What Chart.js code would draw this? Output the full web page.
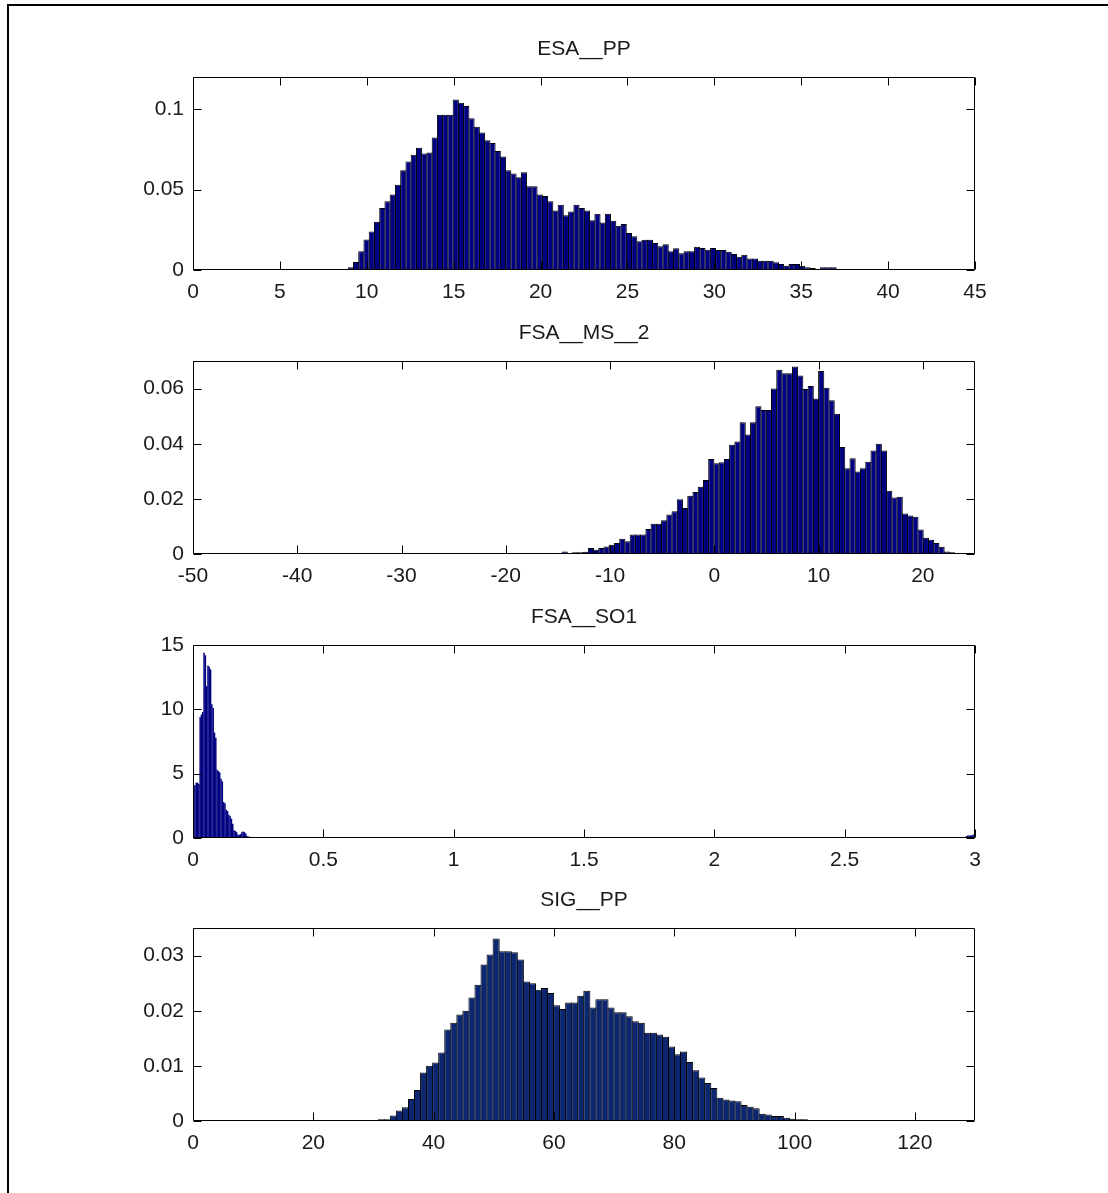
<!DOCTYPE html>
<html>
<head>
<meta charset="utf-8">
<title>Histograms</title>
<script src="https://cdn.jsdelivr.net/npm/chart.js@4.4.1/dist/chart.umd.min.js"></script>
<style>
  html, body { margin: 0; padding: 0; background: #fff; }
  body { width: 1108px; height: 1193px; position: relative; overflow: hidden; }
  .frame {
    position: absolute; left: 7px; top: 4px; right: 0; bottom: 0;
    border-left: 2px solid #000; border-top: 2px solid #000;
  }
  canvas { position: absolute; left: 0; }
</style>
</head>
<body>
<div class="frame"></div>
<canvas id="esa" width="1108" height="288" style="top:27px"></canvas>
<canvas id="ms" width="1108" height="288" style="top:311px"></canvas>
<canvas id="so1" width="1108" height="288" style="top:595px"></canvas>
<canvas id="sig" width="1108" height="288" style="top:878px"></canvas>
<script>
// ESA__PP : normalised histogram
const esaBinStart = 8.93;
const esaBinWidth = 0.302;
const esaValues = [
  0.0017, 0.005, 0.0116, 0.019, 0.024, 0.030, 0.0385, 0.0427, 0.047, 0.053,
  0.062, 0.0675, 0.0716, 0.076, 0.0725, 0.073, 0.0824, 0.0965, 0.0965, 0.0965,
  0.106, 0.104, 0.102, 0.0944, 0.089, 0.0855, 0.0807, 0.079, 0.074, 0.0706,
  0.062, 0.060, 0.0576, 0.0607, 0.052, 0.052, 0.047, 0.046, 0.0427, 0.037,
  0.0406, 0.034, 0.0364, 0.0406, 0.0385, 0.037, 0.031, 0.035, 0.0296, 0.035,
  0.0306, 0.0275, 0.0286, 0.023, 0.021, 0.0178, 0.0188, 0.0188, 0.0168, 0.0147,
  0.016, 0.0116, 0.0135, 0.0104, 0.0116, 0.0116, 0.0145, 0.0137, 0.0126, 0.0137,
  0.0124, 0.0124, 0.0114, 0.0099, 0.0083, 0.0095, 0.0072, 0.0072, 0.0058, 0.0058,
  0.0058, 0.0048, 0.0037, 0.0027, 0.0037, 0.0037, 0.0027, 0.0017, 0.0012, 0.0004,
  0.0017, 0.0017, 0.0017,
];
const esaXTicks = [0, 5, 10, 15, 20, 25, 30, 35, 40, 45];
const esaYTicks = [0, 0.05, 0.1];

// FSA__MS__2
const msBinStart = -14.6;
const msBinWidth = 0.502;
const msValues = [
  0.0009, 0.0002, 0.0006, 0.0006, 0.0008, 0.0022, 0.0015, 0.0022, 0.0027, 0.0034,
  0.004, 0.0055, 0.0046, 0.0071, 0.0071, 0.0071, 0.0091, 0.011, 0.011, 0.0122,
  0.0143, 0.0155, 0.0199, 0.0167, 0.0211, 0.0225, 0.0244, 0.0268, 0.0345, 0.0329,
  0.0333, 0.0345, 0.0396, 0.0408, 0.0478, 0.0433, 0.0478, 0.0536, 0.0522, 0.0522,
  0.06, 0.0668, 0.0656, 0.0656, 0.068, 0.0647, 0.0598, 0.0609, 0.0564, 0.0664,
  0.0603, 0.0558, 0.0509, 0.0388, 0.0311, 0.0347, 0.0299, 0.0311, 0.0335, 0.0375,
  0.04, 0.0375, 0.0229, 0.0205, 0.0208, 0.0147, 0.014, 0.0135, 0.0089, 0.0059,
  0.0052, 0.004, 0.0026, 0.0009, 0.0006,
];
const msXTicks = [-50, -40, -30, -20, -10, 0, 10, 20];
const msYTicks = [0, 0.02, 0.04, 0.06];

// FSA__SO1 (very narrow bins, plus a few outliers near 3)
const so1BinStart = 0;
const so1BinWidth = 0.005;
const so1Values = [
  4.1, 4.1, 4.3, 4.3, 4.2, 9.4, 9.6, 9.8, 14.4, 14.2,
  11.8, 13.4, 13.3, 13.1, 10.4, 10.1, 8.2, 7.8, 5.3, 5.2,
  5.1, 4.6, 4.4, 2.8, 2.7, 2.2, 2.1, 1.8, 1.7, 1.5,
  1.1, 0.6, 0.55, 0.45, 0.25, 0.25, 0.3, 0.45, 0.5, 0.45,
  0.35, 0.15, 0.12, 0.1, 0.08,
];
const so1TailStart = 2.965;
const so1TailValues = [0.15, 0.2, 0.2, 0.2, 0.2, 0.25, 0.3];
const so1XTicks = [0, 0.5, 1, 1.5, 2, 2.5, 3];
const so1YTicks = [0, 5, 10, 15];

// SIG__PP
const sigBinStart = 30.8;
const sigBinWidth = 1.005;
const sigValues = [
  0.0003, 0.0003, 0.001, 0.0019, 0.0025, 0.004, 0.0056, 0.0088, 0.010, 0.0106,
  0.0124, 0.0166, 0.0178, 0.0193, 0.020, 0.0224, 0.0247, 0.0284, 0.0302, 0.0331,
  0.0308, 0.0308, 0.0306, 0.0293, 0.0253, 0.025, 0.0238, 0.0241, 0.0232, 0.021,
  0.0203, 0.0215, 0.0215, 0.0227, 0.0236, 0.0206, 0.0221, 0.0221, 0.0206, 0.0197,
  0.0197, 0.019, 0.0181, 0.0178, 0.016, 0.016, 0.0157, 0.0153, 0.0135, 0.0121,
  0.0126, 0.0107, 0.0092, 0.0079, 0.0069, 0.006, 0.0042, 0.0039, 0.0037, 0.0036,
  0.0029, 0.0026, 0.0023, 0.0013, 0.0012, 0.0009, 0.0009, 0.0006, 0.0004, 0.0003,
  0.0003,
];
const sigXTicks = [0, 20, 40, 60, 80, 100, 120];
const sigYTicks = [0, 0.01, 0.02, 0.03];

const FONT = { family: "'Liberation Sans', Arial, sans-serif", size: 21 };
const TEXT = "#1a1a1a";
const TICK_LEN = 8;

function binPoints(start, width, values) {
  return values.map((y, i) => ({ x: start + (i + 0.5) * width, y }));
}

// MATLAB style box with inward ticks on all four sides
const matlabBox = {
  id: "matlabBox",
  afterDraw(chart) {
    const { ctx, chartArea: a, scales } = chart;
    const left = Math.round(a.left) + 0.5;
    const right = Math.round(a.right) - 0.5;
    const top = Math.round(a.top) + 0.5;
    const bottom = Math.round(a.bottom) - 0.5;
    ctx.save();
    ctx.strokeStyle = "#000";
    ctx.lineWidth = 1;
    ctx.beginPath();
    scales.x.ticks.forEach((t) => {
      const px = Math.round(scales.x.getPixelForValue(t.value)) + 0.5;
      ctx.moveTo(px, bottom);
      ctx.lineTo(px, bottom - TICK_LEN);
      ctx.moveTo(px, top);
      ctx.lineTo(px, top + TICK_LEN);
    });
    scales.y.ticks.forEach((t) => {
      const py = Math.round(scales.y.getPixelForValue(t.value)) + 0.5;
      ctx.moveTo(left, py);
      ctx.lineTo(left + TICK_LEN, py);
      ctx.moveTo(right, py);
      ctx.lineTo(right - TICK_LEN, py);
    });
    ctx.rect(left, top, right - left, bottom - top);
    ctx.stroke();
    ctx.restore();
  },
};

function histogram(id, { title, points, xMin, xMax, yMax, xTicks, yTicks, color, edged }) {
  return new Chart(document.getElementById(id), {
    type: "bar",
    data: {
      datasets: [
        {
          data: points,
          backgroundColor: color,
          borderColor: edged ? "#000" : color,
          borderWidth: edged ? 1 : 0,
          borderSkipped: "start",
          barPercentage: edged ? 1.18 : 1.15,
          categoryPercentage: 1,
          grouped: false,
        },
      ],
    },
    options: {
      responsive: false,
      animation: false,
      devicePixelRatio: 1,
      layout: { padding: { left: 0, right: 133, top: 0, bottom: 0 } },
      plugins: {
        legend: { display: false },
        tooltip: { enabled: false },
        title: {
          display: true,
          text: title,
          color: TEXT,
          fullSize: false,
          font: { ...FONT, weight: "normal" },
          padding: { top: 10, bottom: 14.8 },
        },
      },
      scales: {
        x: {
          type: "linear",
          min: xMin,
          max: xMax,
          offset: false,
          grid: { display: false, drawTicks: false, offset: false },
          border: { display: false },
          afterBuildTicks: (scale) => {
            scale.ticks = xTicks.map((value) => ({ value }));
          },
          afterFit: (scale) => {
            scale.height = 45;
          },
          ticks: {
            color: TEXT,
            font: FONT,
            padding: 10,
            maxRotation: 0,
            autoSkip: false,
            callback: (v) => String(v),
          },
        },
        y: {
          min: 0,
          max: yMax,
          grid: { display: false, drawTicks: false },
          border: { display: false },
          afterBuildTicks: (scale) => {
            scale.ticks = yTicks.map((value) => ({ value }));
          },
          afterFit: (scale) => {
            scale.width = 193;
          },
          ticks: {
            color: TEXT,
            font: FONT,
            padding: 9,
            callback: (v) => String(v),
          },
        },
      },
    },
    plugins: [matlabBox],
  });
}

histogram("esa", {
  title: "ESA__PP",
  points: binPoints(esaBinStart, esaBinWidth, esaValues),
  xMin: 0, xMax: 45, yMax: 0.12,
  xTicks: esaXTicks, yTicks: esaYTicks,
  color: "#000080", edged: true,
});

histogram("ms", {
  title: "FSA__MS__2",
  points: binPoints(msBinStart, msBinWidth, msValues),
  xMin: -50, xMax: 25, yMax: 0.07,
  xTicks: msXTicks, yTicks: msYTicks,
  color: "#000080", edged: true,
});

histogram("so1", {
  title: "FSA__SO1",
  points: binPoints(so1BinStart, so1BinWidth, so1Values)
    .concat(binPoints(so1TailStart, so1BinWidth, so1TailValues)),
  xMin: 0, xMax: 3, yMax: 15,
  xTicks: so1XTicks, yTicks: so1YTicks,
  color: "#000080", edged: false,
});

histogram("sig", {
  title: "SIG__PP",
  points: binPoints(sigBinStart, sigBinWidth, sigValues),
  xMin: 0, xMax: 130, yMax: 0.035,
  xTicks: sigXTicks, yTicks: sigYTicks,
  color: "#0c2770", edged: true,
});
</script>
</body>
</html>
